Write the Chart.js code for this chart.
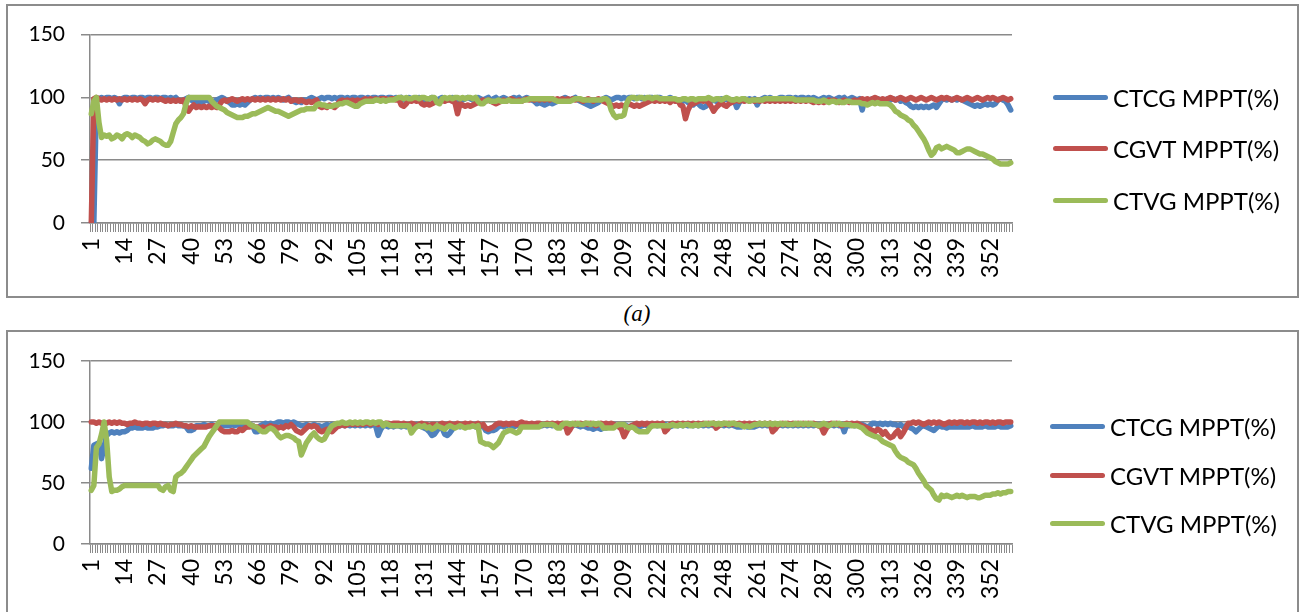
<!DOCTYPE html>
<html>
<head>
<meta charset="utf-8">
<script src="https://cdn.jsdelivr.net/npm/chart.js@4.4.1/dist/chart.umd.min.js"></script>
<style>
  body { margin: 0; background: #fff; width: 1300px; height: 612px; overflow: hidden; position: relative; font-family: Lato, sans-serif; }
  .box { position: absolute; left: 6px; width: 1293px; border: 2px solid #8c8c8c; box-sizing: border-box; background: #fff; }
  #boxA { top: 4px; height: 294px; }
  #boxB { top: 330px; height: 292px; }
  .box canvas { position: absolute; left: 0; top: 0; }
  .item { position: absolute; height: 30px; display: flex; align-items: center; font-size: 24px; color: #000; white-space: nowrap; }
  .item span { display: inline-block; width: 55px; height: 5px; border-radius: 3px; margin-right: 5px; }
  .caption { position: absolute; left: 600px; width: 74px; top: 301px; text-align: center; font: italic 23px "Liberation Serif", serif; }
</style>
</head>
<body>
<div class="box" id="boxA"><canvas id="chartA" width="1289" height="290"></canvas></div>
<div class="caption">(a)</div>
<div class="box" id="boxB"><canvas id="chartB" width="1289" height="288"></canvas></div>
<script>
const categories = Array.from({ length: 360 }, (_, i) => String(i + 1));
const shownTicks = ['1','14','27','40','53','66','79','92','105','118','131','144','157','170','183','196','209','222','235','248','261','274','287','300','313','326','339','352'];
const yTicks = [0, 50, 100, 150];
const seriesNames = ['CTCG MPPT(%)', 'CGVT MPPT(%)', 'CTVG MPPT(%)'];
const COLORS = ['#4F81BD', '#C0504D', '#9BBB59'];

// chart (a)
const ctcgA = [
  0,0,97,99,100,99,100,100,99,100,99,95,99,100,100,99,100,100,99,100,
  100,99,100,100,99,100,100,99,100,100,99,100,99,100,98,97,98,99,100,98,
  97,96,97,96,97,98,97,96,97,98,99,100,99,97,96,94,94,95,94,95,
  94,96,98,99,100,99,100,99,100,100,99,100,99,100,99,98,99,100,98,97,
  96,97,96,98,97,99,100,99,98,99,100,99,100,100,99,100,99,100,100,99,
  100,99,100,100,99,100,100,99,100,99,100,100,99,100,100,99,100,100,99,100,
  99,100,98,99,100,99,98,99,100,99,97,98,99,100,99,98,99,100,99,98,
  99,100,99,98,97,98,99,100,99,98,99,100,99,98,99,100,97,99,100,98,
  99,100,99,98,99,100,99,100,98,99,100,99,98,97,95,96,95,94,95,96,
  95,96,97,98,99,100,99,98,99,100,98,97,96,95,94,93,94,95,96,98,
  99,100,99,98,99,100,100,99,100,99,100,100,99,100,100,99,100,99,100,100,
  99,100,100,99,98,99,100,99,98,97,96,97,98,96,95,94,96,95,93,92,
  93,95,97,98,97,98,99,98,99,98,97,98,92,96,98,99,98,99,98,99,
  94,98,99,100,99,100,99,98,99,100,100,99,100,100,99,100,99,100,100,99,
  100,99,100,99,98,99,100,99,100,99,98,99,100,99,100,98,99,100,99,98,
  99,90,98,97,98,99,98,99,98,97,98,99,98,99,98,99,97,98,96,95,
  93,92,93,92,93,92,93,92,93,94,92,95,98,99,98,99,98,99,98,99,
  98,97,96,95,94,93,94,93,94,95,94,95,94,95,98,99,98,97,94,90
];
const cgvtA = [
  0,99,100,99,98,99,98,99,98,99,98,99,98,99,98,99,98,99,98,99,
  98,95,98,99,98,99,98,99,98,97,98,97,98,97,98,97,98,93,89,92,
  94,92,93,92,93,92,93,92,93,92,94,97,98,97,98,99,98,97,98,99,
  98,99,98,99,98,99,98,99,98,99,98,99,98,99,98,99,98,99,97,98,
  98,97,98,97,96,97,96,97,98,93,92,93,92,94,93,92,94,97,98,97,
  98,97,98,97,98,97,98,99,98,99,98,99,98,99,99,99,98,99,99,98,
  99,94,93,95,98,97,98,97,98,95,94,95,94,95,96,97,96,98,97,98,
  98,97,96,87,95,94,93,94,93,94,95,96,97,98,97,98,97,96,95,96,
  97,98,97,98,99,98,97,98,97,98,99,98,99,98,99,98,99,98,99,98,
  99,98,99,98,99,98,99,98,99,98,99,98,97,98,99,98,97,98,99,98,
  97,96,95,94,93,94,93,94,93,94,95,94,93,94,93,94,95,96,97,98,
  97,98,97,98,97,98,96,98,97,98,94,93,83,90,94,95,96,97,98,97,
  98,96,93,89,92,94,96,94,93,95,96,97,98,97,98,97,98,97,98,97,
  98,97,98,97,98,97,98,97,98,97,98,97,98,97,98,97,98,97,98,97,
  98,97,96,97,96,97,96,97,98,97,98,97,96,97,98,97,96,97,98,97,
  98,99,98,99,98,99,100,99,98,99,98,99,100,99,98,99,100,99,98,99,
  100,99,98,99,100,99,98,99,100,99,98,99,100,99,100,99,98,99,100,99,
  98,99,100,99,98,99,100,99,98,99,100,99,100,99,98,99,100,99,98,99
];
const ctvgA = [
  87,97,100,80,68,70,69,70,67,68,70,69,67,70,71,70,68,70,69,68,
  66,65,63,64,66,67,66,65,63,62,62,65,72,79,82,84,87,95,100,100,
  100,100,100,100,100,100,100,97,95,93,92,91,90,88,87,86,85,84,84,84,
  85,85,86,87,87,88,89,90,91,92,91,90,89,89,88,87,86,85,86,87,
  88,89,90,90,91,91,91,91,94,95,94,94,93,93,93,94,94,95,95,96,
  96,95,94,93,93,95,96,97,97,97,97,98,98,97,98,97,98,98,98,99,
  100,100,99,100,99,99,100,100,99,100,100,99,99,100,100,96,95,99,100,99,
  100,99,100,100,99,100,99,100,100,99,100,97,95,95,97,98,97,97,97,98,
  97,97,97,98,97,97,97,97,97,98,98,99,99,99,99,99,99,99,99,99,
  99,98,97,97,97,97,97,97,98,99,99,99,98,98,98,98,98,98,98,98,
  99,99,97,90,86,84,85,85,86,95,99,100,100,99,100,100,99,100,100,99,
  100,100,99,99,99,99,99,99,99,98,98,99,99,98,99,99,98,99,99,99,
  99,100,99,98,99,99,98,99,100,99,98,98,99,98,99,99,98,97,98,98,
  98,98,98,99,99,99,99,99,99,99,99,99,99,99,99,98,98,98,98,98,
  98,98,98,97,97,97,98,97,96,97,97,96,97,96,96,97,97,96,96,96,
  96,95,95,94,95,96,95,96,95,95,95,95,94,92,89,88,86,85,84,82,
  81,78,76,73,70,67,63,58,54,56,60,61,59,60,61,60,59,58,56,56,
  57,58,59,59,58,57,56,55,55,54,53,52,51,49,48,47,47,47,47,48
];

// chart (b)
const ctcgB = [
  62,81,82,83,70,80,89,91,92,91,92,91,92,92,93,95,95,96,95,95,
  95,96,95,95,95,96,96,97,97,98,97,97,97,98,97,97,97,96,93,93,
  94,97,97,97,98,97,97,98,97,97,98,98,97,97,97,98,97,98,97,98,
  97,97,98,97,92,92,97,98,99,98,99,98,99,100,100,99,100,100,99,100,
  99,98,97,97,98,97,97,98,97,97,96,97,98,97,98,97,98,97,98,97,
  98,97,98,97,98,97,98,97,98,97,98,97,89,94,97,97,96,97,96,97,
  97,96,97,96,97,96,97,98,97,96,95,94,92,89,90,93,96,95,90,89,
  91,94,96,97,96,97,96,97,98,97,96,97,96,97,93,92,93,93,94,96,
  97,96,97,98,97,96,97,98,97,98,97,98,97,98,97,98,97,98,97,98,
  97,98,97,98,97,96,97,98,97,98,97,96,97,96,95,95,94,95,95,94,
  95,95,96,97,98,97,96,97,98,97,96,97,96,97,96,97,98,97,98,97,
  98,97,98,97,98,97,96,97,98,97,98,97,98,97,98,97,98,97,98,97,
  98,97,98,97,98,97,98,97,98,97,98,97,96,96,96,97,96,96,96,96,
  97,98,97,98,97,98,97,98,97,98,97,98,97,98,97,98,97,98,97,98,
  97,98,97,98,97,98,97,98,97,98,97,98,97,98,92,98,97,98,97,98,
  97,98,97,96,97,99,99,98,99,98,99,98,99,98,98,97,98,96,97,96,
  95,94,92,94,96,97,96,95,94,93,95,97,96,96,95,96,96,96,96,96,
  96,96,96,96,97,96,96,96,96,97,96,96,96,96,97,96,96,96,96,97
];
const cgvtB = [
  100,100,99,100,99,98,99,100,99,100,99,100,99,99,98,99,99,100,99,99,
  98,99,99,98,99,99,98,99,98,98,97,98,98,99,98,98,97,97,96,97,
  96,96,96,96,96,96,97,97,97,97,95,93,92,92,92,93,92,92,94,93,
  95,96,96,97,96,96,95,96,95,96,97,96,96,95,96,95,97,96,98,96,
  93,92,91,93,95,97,96,97,96,93,92,93,94,93,92,94,96,97,98,97,
  98,99,98,99,98,99,98,99,99,98,99,99,98,99,98,99,99,98,99,99,
  99,98,99,98,98,99,98,97,98,99,98,98,97,98,98,97,98,99,98,98,
  99,98,98,99,98,98,99,98,99,98,98,99,97,98,95,94,95,96,98,99,
  99,98,99,98,99,99,98,99,100,99,99,98,99,98,99,99,98,98,99,98,
  99,98,99,98,99,98,91,94,98,99,98,99,98,99,98,99,98,97,98,99,
  98,99,98,99,98,97,96,94,88,92,96,97,98,99,98,99,98,99,98,99,
  98,99,98,99,92,94,98,99,98,99,98,99,98,99,98,99,98,99,98,99,
  98,99,98,99,95,97,98,99,98,99,98,99,98,99,98,99,98,99,98,99,
  98,99,98,99,98,99,92,94,97,98,99,98,99,98,99,98,99,98,99,98,
  99,98,99,98,97,96,91,95,98,99,98,99,98,97,98,99,98,99,98,99,
  98,97,96,95,94,93,92,94,93,90,92,89,87,88,91,93,88,91,95,99,
  99,100,99,100,99,98,99,100,99,100,99,100,99,98,99,100,99,100,99,100,
  100,99,100,99,100,100,99,100,99,100,100,99,100,99,100,100,99,100,100,100
];
const ctvgB = [
  44,48,79,82,90,100,85,55,43,44,44,45,47,48,48,48,48,48,48,48,
  48,48,48,48,48,48,48,45,44,47,48,44,43,55,57,58,60,63,66,69,
  72,74,76,78,80,84,88,91,94,97,100,100,100,100,100,100,100,100,100,100,
  100,100,98,97,96,95,93,92,92,94,95,94,92,89,87,88,89,89,88,87,
  85,84,73,78,83,86,89,91,88,86,85,86,90,94,97,98,99,99,100,99,
  99,100,99,100,99,100,99,100,100,99,100,99,100,100,97,99,98,97,97,97,
  97,97,97,97,97,91,94,96,97,96,97,95,96,94,95,97,96,95,94,96,
  97,96,95,96,97,96,95,96,96,97,96,97,84,83,82,82,81,79,81,83,
  87,91,92,93,93,92,91,92,96,96,96,96,96,96,96,96,98,98,98,98,
  98,97,95,95,98,99,99,98,99,98,99,98,98,99,99,98,99,98,99,98,
  95,95,95,95,95,97,98,98,98,96,95,96,95,93,92,92,92,92,95,97,
  97,97,97,97,97,97,97,98,97,97,98,97,98,98,97,97,98,97,98,98,
  99,98,99,99,98,99,98,99,99,98,99,99,98,98,97,96,97,96,97,98,
  98,99,98,99,98,99,98,99,98,99,98,99,98,98,98,99,98,99,98,99,
  98,99,98,98,97,98,99,98,97,98,99,98,99,98,98,98,98,97,97,97,
  96,95,93,91,90,89,88,88,86,84,83,82,81,80,76,73,71,70,69,67,
  66,65,62,58,55,52,48,46,44,40,37,36,40,39,40,39,38,39,40,39,
  40,39,38,39,39,39,38,38,39,40,40,40,41,41,42,41,42,42,43,43
];

const GREY = '#8a8a8a';
const Y_FONT = { family: 'Lato', size: 21 };
const X_FONT = { family: 'Lato', size: 23 };

function drawChart(id, values, padTop, xHeight) {
  new Chart(document.getElementById(id), {
    type: 'line',
    data: {
      labels: categories,
      datasets: values.map((v, i) => ({
        label: seriesNames[i],
        data: v,
        borderColor: COLORS[i],
        backgroundColor: COLORS[i],
        borderWidth: 5.5,
        pointRadius: 0,
        tension: 0,
        fill: false,
        borderJoinStyle: 'round',
        borderCapStyle: 'round',
        order: 2 - i,
      })),
    },
    options: {
      responsive: false,
      animation: false,
      devicePixelRatio: 1,
      layout: { padding: { top: padTop, right: 285, left: 0, bottom: 0 } },
      plugins: { legend: { display: false }, tooltip: { enabled: false } },
      scales: {
        x: {
          offset: true,
          grid: { drawOnChartArea: false, color: GREY, tickLength: 9, lineWidth: 1, offset: true },
          border: { color: GREY, width: 1.5 },
          ticks: {
            autoSkip: false, minRotation: 90, maxRotation: 90, padding: 6, color: '#000', font: X_FONT,
            callback: (val, i) => shownTicks.includes(categories[i]) ? categories[i] : '',
          },
          afterFit: s => { s.height = xHeight; },
        },
        y: {
          min: 0,
          max: 150,
          afterBuildTicks: s => { s.ticks = yTicks.map(v => ({ value: v })); },
          grid: { color: GREY, lineWidth: 1.5, tickLength: 9 },
          border: { color: GREY, width: 1.5 },
          ticks: { padding: 16, color: '#000', font: Y_FONT },
          afterFit: s => { s.width = 82; },
        },
      },
    },
  });
}

function drawLegend(boxId, left, tops) {
  const box = document.getElementById(boxId);
  seriesNames.forEach((name, i) => {
    const item = document.createElement('div');
    item.className = 'item';
    item.style.left = left + 'px';
    item.style.top = (tops[i] - 15) + 'px';
    item.innerHTML = `<span style="background:${COLORS[i]}"></span>${name}`;
    box.appendChild(item);
  });
}

drawChart('chartA', [ctcgA, cgvtA, ctvgA], 28, 73);
drawChart('chartB', [ctcgB, cgvtB, ctvgB], 29, 76);
drawLegend('boxA', 1045, [91, 142.5, 194]);
drawLegend('boxB', 1042, [94.7, 143, 191.3]);
</script>
</body>
</html>
